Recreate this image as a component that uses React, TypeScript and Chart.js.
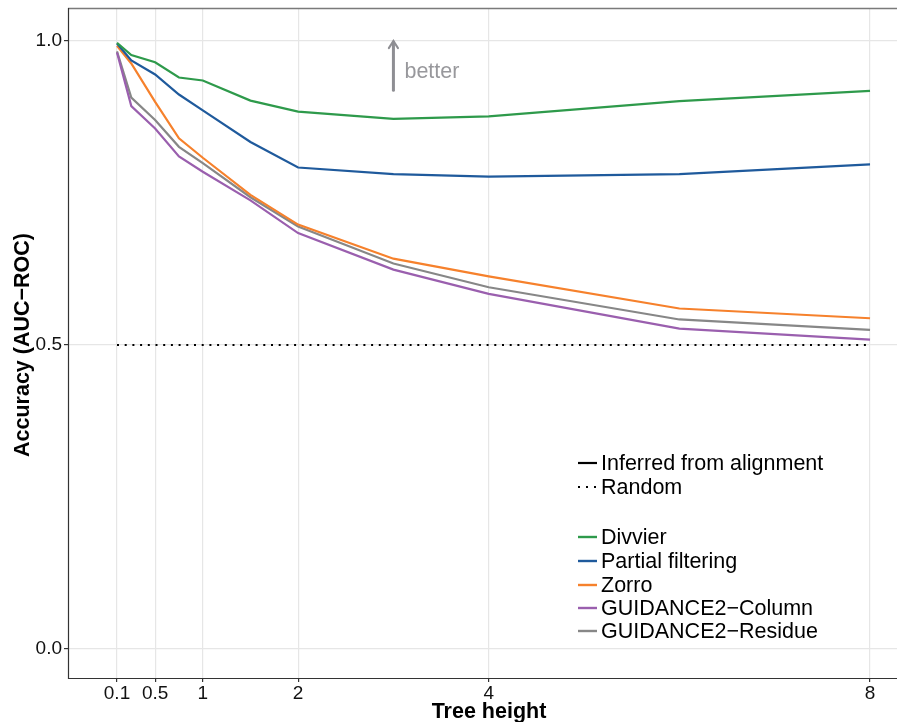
import React, { useEffect, useRef } from "react";
import { Chart, registerables } from "chart.js";

Chart.register(...registerables);

const treeHeights = [0.1, 0.25, 0.5, 0.75, 1, 1.5, 2, 3, 4, 6, 8];
const divvier = [0.997, 0.977, 0.965, 0.94, 0.935, 0.902, 0.884, 0.872, 0.876, 0.901, 0.918];
const partialFiltering = [0.996, 0.968, 0.945, 0.912, 0.886, 0.834, 0.792, 0.781, 0.777, 0.781, 0.797];
const zorro = [0.992, 0.963, 0.9, 0.84, 0.808, 0.747, 0.698, 0.642, 0.613, 0.56, 0.544];
const guidanceColumn = [0.981, 0.893, 0.856, 0.81, 0.785, 0.738, 0.684, 0.624, 0.584, 0.527, 0.509];
const guidanceResidue = [0.983, 0.907, 0.87, 0.826, 0.799, 0.743, 0.695, 0.634, 0.595, 0.542, 0.525];
const randomX = [0.1, 8];
const randomY = [0.5, 0.5];

const xTicks = [0.1, 0.5, 1, 2, 4, 8];
const xTickLabels = ["0.1", "0.5", "1", "2", "4", "8"];
const yTicks = [0, 0.5, 1];
const yTickLabels = ["0.0", "0.5", "1.0"];

const seriesNames = ["Divvier", "Partial filtering", "Zorro", "GUIDANCE2\u2212Column", "GUIDANCE2\u2212Residue"];
const seriesColors = ["#2e9a4b", "#1f5a9c", "#f6812c", "#9a5fae", "#878787"];
const seriesValues = [divvier, partialFiltering, zorro, guidanceColumn, guidanceResidue];

const FONT = "'Liberation Sans', Arial, sans-serif";

const extrasPlugin = {
  id: "extras",
  afterDraw(chart: any) {
    const ctx = chart.ctx;
    const { left, top, right, bottom } = chart.chartArea;
    const xs = chart.scales.x;
    const ys = chart.scales.y;
    ctx.save();
    // top border
    ctx.strokeStyle = "#7a7a7a";
    ctx.lineWidth = 1.5;
    ctx.beginPath();
    ctx.moveTo(left, top + 0.5);
    ctx.lineTo(right + 5, top + 0.5);
    ctx.stroke();
    // left and bottom axis lines
    ctx.strokeStyle = "#333";
    ctx.lineWidth = 1.2;
    ctx.beginPath();
    ctx.moveTo(left + 0.5, top);
    ctx.lineTo(left + 0.5, bottom + 0.5);
    ctx.lineTo(right + 5, bottom + 0.5);
    ctx.stroke();

    // better arrow
    const ax = xs.getPixelForValue(3);
    const ay0 = ys.getPixelForValue(0.919);
    const ay1 = ys.getPixelForValue(1.0);
    ctx.strokeStyle = "#8e8e93";
    ctx.lineWidth = 3;
    ctx.lineCap = "round";
    ctx.beginPath();
    ctx.moveTo(ax, ay0);
    ctx.lineTo(ax, ay1 + 1);
    ctx.stroke();
    ctx.lineWidth = 2.2;
    ctx.beginPath();
    ctx.moveTo(ax - 4.5, ay1 + 7);
    ctx.lineTo(ax, ay1);
    ctx.lineTo(ax + 4.5, ay1 + 7);
    ctx.stroke();
    ctx.fillStyle = "#98989c";
    ctx.font = `21.5px ${FONT}`;
    ctx.textAlign = "left";
    ctx.textBaseline = "middle";
    ctx.fillText("better", ax + 11, ys.getPixelForValue(0.949));

    // axis titles
    ctx.fillStyle = "#000";
    ctx.font = `bold 21.5px ${FONT}`;
    ctx.textAlign = "center";
    ctx.textBaseline = "middle";
    ctx.fillText("Tree height", 489, 712);
    ctx.save();
    ctx.translate(23, ys.getPixelForValue(0.5));
    ctx.rotate(-Math.PI / 2);
    ctx.fillText("Accuracy (AUC\u2212ROC)", 0, 0);
    ctx.restore();

    // legend
    const lx0 = 578;
    const lx1 = 597;
    const tx = 601;
    ctx.font = `21.5px ${FONT}`;
    ctx.textAlign = "left";
    ctx.textBaseline = "middle";
    ctx.lineCap = "butt";
    ctx.strokeStyle = "#000";
    ctx.lineWidth = 2.2;
    ctx.beginPath();
    ctx.moveTo(lx0, 463);
    ctx.lineTo(lx1, 463);
    ctx.stroke();
    ctx.fillStyle = "#000";
    ctx.fillText("Inferred from alignment", tx, 464);
    for (let i = 0; i < 3; i++) {
      ctx.fillRect(lx0 + i * 8, 486, 2, 2);
    }
    ctx.fillText("Random", tx, 488);
    const ly = [537, 561, 585, 608, 631];
    seriesNames.forEach((n, i) => {
      ctx.strokeStyle = seriesColors[i];
      ctx.lineWidth = 2.4;
      ctx.beginPath();
      ctx.moveTo(lx0, ly[i]);
      ctx.lineTo(lx1, ly[i]);
      ctx.stroke();
      ctx.fillStyle = "#000";
      ctx.fillText(n, tx, ly[i] + 1);
    });
    ctx.restore();
  },
};

export default function App() {
  const ref = useRef<HTMLCanvasElement | null>(null);
  useEffect(() => {
    if (!ref.current) return;
    const datasets: any[] = seriesValues.map((vals, i) => ({
      label: seriesNames[i],
      data: treeHeights.map((x, j) => ({ x, y: vals[j] })),
      borderColor: seriesColors[i],
      borderWidth: 2.2,
      pointRadius: 0,
      fill: false,
      tension: 0,
    }));
    datasets.unshift({
      label: "Random",
      data: randomX.map((x, j) => ({ x, y: randomY[j] })),
      borderColor: "#000",
      borderWidth: 2,
      borderDash: [2, 5.7],
      pointRadius: 0,
      fill: false,
    });
    const chart = new Chart(ref.current, {
      type: "line",
      data: { datasets },
      options: {
        animation: false,
        responsive: false,
        maintainAspectRatio: false,
        layout: { padding: { top: 8, right: 0, left: 0, bottom: 0 } },
        plugins: { legend: { display: false }, tooltip: { enabled: false } },
        scales: {
          x: {
            type: "linear",
            min: -0.414,
            max: 8.283,
            afterBuildTicks: (s: any) => {
              s.ticks = xTicks.map((v) => ({ value: v }));
            },
            afterFit: (s: any) => {
              s.height = 44;
              s.paddingLeft = 0;
              s.paddingRight = 0;
            },
            border: { display: false },
            grid: { color: "#e6e6e6", lineWidth: 1.2, tickLength: 4, tickColor: "#333" },
            ticks: {
              autoSkip: false,
              maxRotation: 0,
              padding: 0,
              color: "#111",
              font: { family: FONT, size: 19 },
              callback: (v: any) => {
                const i = xTicks.indexOf(Number(v));
                return i >= 0 ? xTickLabels[i] : "";
              },
            },
          },
          y: {
            type: "linear",
            min: -0.0477,
            max: 1.0543,
            afterBuildTicks: (s: any) => {
              s.ticks = yTicks.map((v) => ({ value: v }));
            },
            afterFit: (s: any) => {
              s.width = 68;
              s.paddingTop = 0;
              s.paddingBottom = 0;
            },
            border: { display: false },
            grid: { color: "#e6e6e6", lineWidth: 1.2, tickLength: 4, tickColor: "#333" },
            ticks: {
              padding: 2,
              color: "#111",
              font: { family: FONT, size: 19 },
              callback: (v: any) => {
                const i = yTicks.indexOf(Number(v));
                return i >= 0 ? yTickLabels[i] : "";
              },
            },
          },
        },
      },
      plugins: [extrasPlugin],
    });
    return () => chart.destroy();
  }, []);
  return (
    <div style={{ position: "fixed", left: 0, top: 0, width: 897, height: 722, background: "#fff" }}>
      <canvas ref={ref} width={897} height={722} style={{ width: 897, height: 722 }} />
    </div>
  );
}
